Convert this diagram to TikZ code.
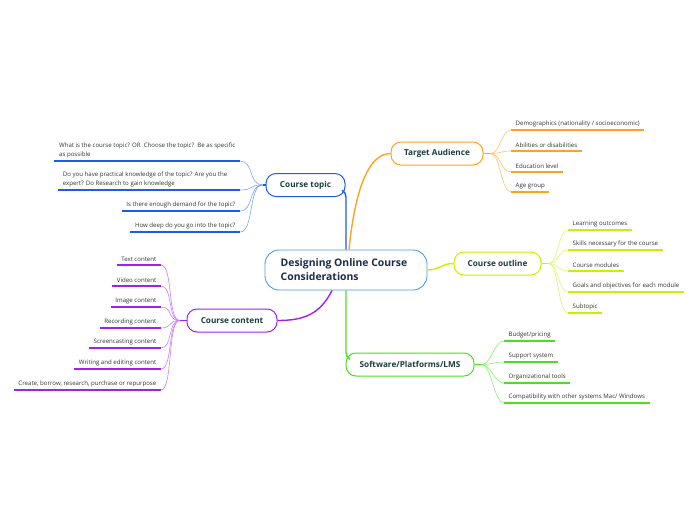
\documentclass[tikz,border=0pt]{standalone}
\usepackage{fontspec}
\setmainfont{Open Sans}
\definecolor{cblue}{HTML}{1A5CF0}
\definecolor{lblue}{HTML}{7AA4F6}
\definecolor{corange}{HTML}{FFA21F}
\definecolor{lorange}{HTML}{FFC46A}
\definecolor{cyel}{HTML}{C8F000}
\definecolor{lyel}{HTML}{DDF570}
\definecolor{cgreen}{HTML}{4AE01E}
\definecolor{lgreen}{HTML}{8DEE6E}
\definecolor{cpurp}{HTML}{A020F0}
\definecolor{lpurp}{HTML}{CC80FF}
\definecolor{cmain}{HTML}{4A9EE0}
\definecolor{maintext}{HTML}{1C2B4E}
\definecolor{brtext}{HTML}{1C3D3A}
\definecolor{leaftext}{HTML}{333333}
\tikzset{
  centralbox/.style={draw=cmain, line width=0.9pt, rounded corners=14pt, fill=white,
    minimum width=162pt, minimum height=40pt, inner sep=0pt,
    font=\fontsize{10.4}{14}\selectfont\bfseries, text=maintext, align=left},
  branchbox/.style={draw=#1, line width=1pt, rounded corners=10pt, fill=white,
    minimum height=23pt, inner sep=0pt,
    font=\fontsize{8.2}{9}\selectfont\bfseries, text=brtext},
  leafL/.style={anchor=south east, inner xsep=4.5pt, inner ysep=2.8pt,
    font=\fontsize{6.1}{9.5}\selectfont, text=leaftext, align=left},
  leafR/.style={anchor=south west, inner xsep=4.5pt, inner ysep=2.8pt,
    font=\fontsize{6.1}{9.5}\selectfont, text=leaftext, align=left},
  mainlink/.style={draw=#1, line width=1.4pt},
  leaflink/.style={draw=#1, line width=0.6pt},
  uline/.style={draw=#1, line width=1.5pt},
}
\begin{document}
\begin{tikzpicture}[x=1pt, y=-1pt]
\useasboundingbox (0,0) rectangle (696,520);
% central
\node[centralbox] (c) at (346,270) {\hspace*{5pt}Designing Online Course\hspace*{9pt}\\\hspace*{5pt}Considerations};
% branches
\node[branchbox=cblue, minimum width=79pt] (ct) at (305.5,185) {Course topic};
\node[branchbox=corange, minimum width=92pt] (ta) at (437,153.5) {Target Audience};
\node[branchbox=cyel, minimum width=87pt] (co) at (497.5,263.5) {Course outline};
\node[branchbox=cgreen, minimum width=128pt] (sw) at (410,364.5) {Software/Platforms/LMS};
\node[branchbox=cpurp, minimum width=90pt] (cc) at (232,320.5) {Course content};
% main links
\draw[mainlink=cblue] (c.north) -- (c.north |- ct.south) arc[start angle=0, end angle=60, radius=8pt];
\draw[mainlink=cgreen] (c.south) -- (c.south |- sw.north) arc[start angle=180, end angle=240, radius=8pt];
\draw[mainlink=corange] ([xshift=3pt]c.north) .. controls +(6,-60) and +(-22,0) .. (ta.west);
\draw[mainlink=cyel] (c.east) .. controls +(12,0) and +(-12,0) .. (co.west);
\draw[mainlink=cpurp] ([xshift=-14pt]c.south) .. controls +(-12,24) and +(26,0) .. (cc.east);
% stubs
\coordinate (ctj) at ([xshift=-3pt]ct.west);
\coordinate (taj) at ([xshift=7pt]ta.east);
\coordinate (coj) at ([xshift=7pt]co.east);
\coordinate (swj) at ([xshift=7pt]sw.east);
\coordinate (ccj) at ([xshift=-7pt]cc.west);
\draw[mainlink=corange] (ta.east) -- (taj);
\draw[mainlink=cyel] (co.east) -- (coj);
\draw[mainlink=cgreen] (sw.east) -- (swj);
\draw[mainlink=cpurp] (cc.west) -- (ccj);
% course topic leaves
\node[leafL] (t1) at (240,161) {What is the course topic? OR\ \ Choose the topic?\ \ Be as specific\\as possible\hspace*{20pt}};
\node[leafL] (t2) at (240,190) {Do you have practical knowledge of the topic? Are you the\hspace*{8pt}\\expert? Do Research to gain knowledge};
\node[leafL] (t3) at (240,211) {Is there enough demand for the topic?};
\node[leafL] (t4) at (240,232) {How deep do you go into the topic?};
\foreach \n in {t1,t2,t3,t4}{
  \draw[leaflink=lblue] (ctj) .. controls +(-14,0) and +(14,0) .. (\n.south east);
  \draw[uline=cblue] (\n.south west) -- (\n.south east);}
\draw[mainlink=cblue] (ct.west) -- (ctj);
% course content leaves
\node[leafL] (p1) at (161,265) {Text content};
\node[leafL] (p2) at (161,286) {Video content};
\node[leafL] (p3) at (161,307) {Image content};
\node[leafL] (p4) at (161,328) {Recording content};
\node[leafL] (p5) at (161,348) {Screencasting content};
\node[leafL] (p6) at (161,369) {Writing and editing content};
\node[leafL] (p7) at (161,390) {Create, borrow, research, purchase or repurpose};
\foreach \n in {p1,p2,p3,p4,p5,p6,p7}{
  \draw[leaflink=lpurp] (ccj) .. controls +(-12,0) and +(12,0) .. (\n.south east);
  \draw[uline=cpurp] (\n.south west) -- (\n.south east);}
% target audience leaves
\node[leafR] (a1) at (511,130) {Demographics (nationality / socioeconomic)};
\node[leafR] (a2) at (511,151) {Abilities or disabilities};
\node[leafR] (a3) at (511,172) {Education level};
\node[leafR] (a4) at (511,192) {Age group};
\foreach \n in {a1,a2,a3,a4}{
  \draw[leaflink=lorange] (taj) .. controls +(10,0) and +(-10,0) .. (\n.south west);
  \draw[uline=corange] (\n.south west) -- (\n.south east);}
% course outline leaves
\node[leafR] (o1) at (568,230) {Learning outcomes};
\node[leafR] (o2) at (568,250) {Skills necessary for the course};
\node[leafR] (o3) at (568,271) {Course modules};
\node[leafR] (o4) at (568,292) {Goals and objectives for each module};
\node[leafR] (o5) at (568,313) {Subtopic};
\foreach \n in {o1,o2,o3,o4,o5}{
  \draw[leaflink=lyel] (coj) .. controls +(10,0) and +(-10,0) .. (\n.south west);
  \draw[uline=cyel] (\n.south west) -- (\n.south east);}
% software leaves
\node[leafR] (s1) at (504,341) {Budget/pricing};
\node[leafR] (s2) at (504,362) {Support system};
\node[leafR] (s3) at (504,383) {Organizational tools};
\node[leafR] (s4) at (504,403) {Compatibility with other systems Mac/ Windows};
\foreach \n in {s1,s2,s3,s4}{
  \draw[leaflink=lgreen] (swj) .. controls +(10,0) and +(-10,0) .. (\n.south west);
  \draw[uline=cgreen] (\n.south west) -- (\n.south east);}
\end{tikzpicture}
\end{document}
